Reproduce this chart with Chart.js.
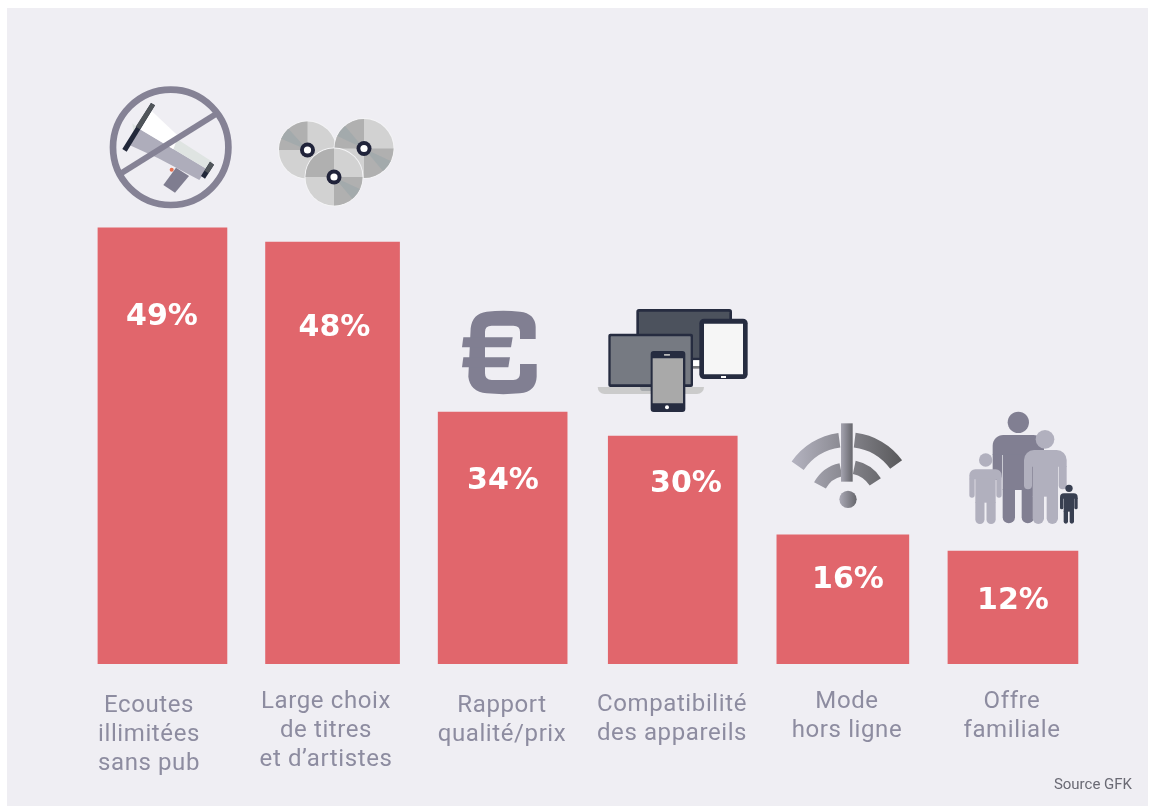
<!DOCTYPE html>
<html lang="fr">
<head>
<meta charset="utf-8">
<title>Source GFK</title>
<script src="https://cdn.jsdelivr.net/npm/chart.js@4"></script>
<style>html,body{margin:0;padding:0;background:#fff}canvas{display:block}</style>
</head>
<body>
<canvas id="c" width="1152" height="806"></canvas>
<script>
// ---- data ----
const categories = ['Ecoutes illimitées sans pub','Large choix de titres et d’artistes','Rapport qualité/prix','Compatibilité des appareils','Mode hors ligne','Offre familiale'];
const categoryLines = [['Ecoutes','illimitées','sans pub'],['Large choix','de titres','et d’artistes'],['Rapport','qualité/prix'],['Compatibilité','des appareils'],['Mode','hors ligne'],['Offre','familiale']];
const percentLabels = ['49%','48%','34%','30%','16%','12%'];
// drawn length of each bar (the infographic is not strictly proportional), on a scale where the first bar = 49
const barLengths = [49, 47.4, 28.3, 25.6, 14.5, 12.7];
const sourceText = 'Source GFK';
// ---- layout / style (not data) ----
const barWidths = [129,134,129,129,132,130];
const labelCentres = [[162,317],[334.5,328],[503,481],[686,484],[848,580],[1013,601]];
const categoryX = [149,326,502,672,847,1012];
const categoryY = [706,702,706,705,702,702];
const BG='#EFEEF3', BAR='#E1666C', TXT='#8D8CA0', G='#817F92', G2='#B1B0BE', NAVY='#262C40';

function poly(c,ox,oy,pts,fill){c.fillStyle=fill;c.beginPath();pts.forEach((p,i)=>{const x=ox+p[0]/3,y=oy+p[1]/3;i?c.lineTo(x,y):c.moveTo(x,y)});c.closePath();c.fill();}
function rr(c,ox,oy,x0,y0,x1,y1,r,fill){c.fillStyle=fill;c.beginPath();c.roundRect(ox+x0/3,oy+y0/3,(x1-x0)/3,(y1-y0)/3,Array.isArray(r)?r.map(v=>v/3):r/3);c.fill();}
function circ(c,ox,oy,x,y,r,fill){c.fillStyle=fill;c.beginPath();c.arc(ox+x/3,oy+y/3,r/3,0,Math.PI*2);c.fill();}

function megaphone(c){const o=[90,70];
  const P=(pts,f)=>poly(c,o[0],o[1],pts,f);
  P([[140,172],[250,237],[350,297],[328,330],[205,265],[118,225]],'#AEADBB');
  P([[262,208],[367,275],[350,297],[250,237]],'#DFE4E2');
  P([[182,120],[264,197],[250,238],[140,172]],'#FFFFFF');
  P([[127,160],[140,172],[130,186]],'#DFE4E2');
  P([[258,293],[297,318],[255,368],[220,345]],'#7F7D90');
  circ(c,o[0],o[1],245,299,6,'#E8704F');
  P([[360,275],[372,284],[345,326],[333,318]],'#22283A');
  P([[360,275],[372,284],[355,310],[344,302]],'#50555A');
  P([[183,99],[195,106],[110,245],[97,237]],'#22283A');
  P([[183,99],[195,106],[150,178],[137,170]],'#50555A');
  c.strokeStyle='#858295';c.lineWidth=6.7;c.beginPath();c.arc(170.7,147.3,57.7,0,Math.PI*2);c.stroke();
  c.lineWidth=6;c.beginPath();c.moveTo(216,114);c.lineTo(120,174);c.stroke();
}
function disc(c,cx,cy,r,sectors){
  const L='#D2D2D2',M='#B0B0B0',D='#A3AAAC';
  c.fillStyle='#F4F4F6';c.beginPath();c.arc(cx,cy,r+1,0,7);c.fill();
  c.fillStyle=L;c.beginPath();c.arc(cx,cy,r,0,7);c.fill();
  const pal={M,D};
  sectors.forEach(s=>{c.fillStyle=pal[s[2]];c.beginPath();c.moveTo(cx,cy);c.arc(cx,cy,r,s[0]*Math.PI/180,s[1]*Math.PI/180);c.closePath();c.fill();});
  c.fillStyle='#20233A';c.beginPath();c.arc(cx,cy,7.5,0,7);c.fill();
  c.fillStyle='#FFF';c.beginPath();c.arc(cx,cy,3.6,0,7);c.fill();
}
function discs(c){
  disc(c,307.5,150,28.5,[[180,270,'M'],[203,228,'D']]);
  disc(c,364,148.5,29.5,[[180,270,'M'],[205,230,'D'],[0,90,'M'],[25,50,'D']]);
  disc(c,334,177,28.5,[[180,270,'M'],[0,90,'M'],[25,50,'D']]);
}
function euro(c){const ox=440,oy=295,X=v=>ox+v/3,Y=v=>oy+v/3;
  c.fillStyle=G;c.beginPath();
  const M=(a,b)=>c.moveTo(X(a),Y(b)),L=(a,b)=>c.lineTo(X(a),Y(b)),Q=(a,b,d,e)=>c.quadraticCurveTo(X(a),Y(b),X(d),Y(e));
  M(287,132);L(287,95);Q(285,55,240,50);Q(190,45,140,50);Q(97,55,92,100);L(85,245);Q(90,290,140,295);Q(190,300,240,295);Q(288,290,290,245);L(290,207);L(240,207);L(240,235);Q(240,255,220,255);L(155,255);Q(135,255,135,235);L(135,110);Q(135,92,155,92);L(220,92);Q(240,92,240,110);L(240,132);c.closePath();c.fill();
  poly(c,ox,oy,[[70,127],[218,127],[213,157],[66,157]],G);
  poly(c,ox,oy,[[70,187],[210,187],[205,217],[66,217]],G);
}
function devices(c){const o=[440,295],R=(a,b,d,e,r,f)=>rr(c,o[0],o[1],a,b,d,e,r,f);
  R(589,42,876,196,8,NAVY);R(597,50,868,188,2,'#4C525D');
  R(760,196,782,216,0,'#FFF');R(745,213,790,221,0,'#77787C');
  R(473,276,792,297,[0,0,22,22],'#CBCBCB');
  R(600,276,660,288,[0,0,10,10],'#A8ABAE');
  R(505,116,759,276,6,NAVY);R(512,124,752,268,2,'#767A82');
  R(778,71,923,252,14,NAVY);R(792,86,909,238,0,'#F6F6F6');R(843,243,858,249,0,'#FFF');
  R(632,168,736,351,9,NAVY);R(638,190,729,325,0,'#A9A9A9');R(672,177,690,182,1,'#BBB');circ(c,o[0],o[1],681,337,6,'#FFF');
}
function wifi(c){const ox=770,oy=400,cx=ox+232/3,cy=oy+300/3;
  const g=c.createLinearGradient(ox+65/3,0,ox+398/3,0);g.addColorStop(0,'#B4B3C0');g.addColorStop(1,'#58585A');
  c.strokeStyle=g;
  const d=Math.PI/180;
  c.lineWidth=44/3;
  c.beginPath();c.arc(cx,cy,181/3,214.6*d,262.4*d);c.stroke();
  c.beginPath();c.arc(cx,cy,181/3,277*d,324*d);c.stroke();
  c.lineWidth=40/3;
  c.beginPath();c.arc(cx,cy,93/3,208*d,258*d);c.stroke();
  c.beginPath();c.arc(cx,cy,100/3,282*d,327*d);c.stroke();
  const b=c.createLinearGradient(ox+213/3,0,ox+248/3,0);b.addColorStop(0,'#A5A4B0');b.addColorStop(1,'#66666C');
  c.fillStyle=b;c.fillRect(ox+213/3,oy+70/3,35/3,175/3);
  const e=c.createLinearGradient(ox+208/3,0,ox+260/3,0);e.addColorStop(0,'#ABAAB6');e.addColorStop(1,'#66666C');
  c.fillStyle=e;c.beginPath();c.arc(ox+234/3,oy+298/3,26/3,0,7);c.fill();
}
function person(c,p){const o=[770,400],R=(a,b,d,e,r)=>rr(c,o[0],o[1],a,b,d,e,r,p.col);
  circ(c,o[0],o[1],p.hx,p.hy,p.hr,p.col);
  R(p.l,p.top,p.r,p.top+p.band,[p.cr,p.cr,0,0]);
  R(p.l,p.top+p.band-2,p.l+p.arm,p.armB,[0,0,p.arm/2,p.arm/2]);
  R(p.r-p.arm,p.top+p.band-2,p.r,p.armB,[0,0,p.arm/2,p.arm/2]);
  R(p.l+p.arm+p.gap,p.top+p.band-2,p.r-p.arm-p.gap,p.hip,0);
  const w=(p.r-p.l-2*p.arm-2*p.gap-p.lg)/2, a=p.l+p.arm+p.gap;
  R(a,p.hip-2,a+w,p.foot,[0,0,w/2,w/2]);
  R(a+w+p.lg,p.hip-2,a+2*w+p.lg,p.foot,[0,0,w/2,w/2]);
}
function family(c){
  person(c,{col:G,hx:745,hy:67,hr:32,l:668,r:822,top:105,band:60,cr:32,arm:28,gap:2,armB:240,hip:270,foot:370,lg:20});
  person(c,{col:G2,hx:825,hy:118,hr:28,l:762,r:890,top:150,band:50,cr:30,arm:24,gap:2,armB:268,hip:290,foot:372,lg:8});
  person(c,{col:G2,hx:647,hy:180,hr:20,l:598,r:695,top:208,band:30,cr:18,arm:16,gap:2,armB:293,hip:308,foot:372,lg:6});
  person(c,{col:'#383F51',hx:897,hy:265,hr:11,l:870,r:923,top:280,band:16,cr:12,arm:10,gap:1,armB:328,hip:335,foot:371,lg:5});
}

const panelAndIcons = {
  id:'panelAndIcons',
  beforeDraw(ch){const c=ch.ctx;c.save();c.fillStyle='#FFFFFF';c.fillRect(0,0,1152,806);c.fillStyle=BG;c.fillRect(7,8,1141,798);c.restore();},
  afterDatasetsDraw(ch){const c=ch.ctx;c.save();
    megaphone(c);discs(c);euro(c);devices(c);wifi(c);family(c);
    c.textBaseline='middle';c.textAlign='center';
    c.fillStyle='#FFFFFF';c.font='bold 30px "DejaVu Sans"';
    percentLabels.forEach((t,i)=>c.fillText(t,labelCentres[i][0],labelCentres[i][1]));
    c.fillStyle=TXT;c.font='400 24px Roboto';c.letterSpacing='0.6px';
    categoryLines.forEach((ls,i)=>ls.forEach((t,j)=>c.fillText(t,categoryX[i],categoryY[i]+j*29)));
    c.letterSpacing='0px';
    c.fillStyle='#6A6A74';c.font='15px Roboto';c.textAlign='right';c.fillText(sourceText,1132,785);
    c.restore();}
};

new Chart(document.getElementById('c'),{
  type:'bar',
  data:{labels:categories,datasets:barLengths.map((v,i)=>({
    label:categories[i],
    data:categories.map((_,k)=>k===i?v:null),
    backgroundColor:BAR,borderWidth:0,barThickness:barWidths[i],stack:'s'
  }))},
  options:{
    responsive:false,animation:false,
    layout:{padding:{left:77.4,right:54,top:41,bottom:142}},
    plugins:{legend:{display:false},tooltip:{enabled:false},title:{display:false}},
    scales:{
      x:{display:false,stacked:true,grid:{display:false}},
      y:{display:false,stacked:true,min:0,max:70,grid:{display:false}}
    }
  },
  plugins:[panelAndIcons]
});
</script>
</body>
</html>
